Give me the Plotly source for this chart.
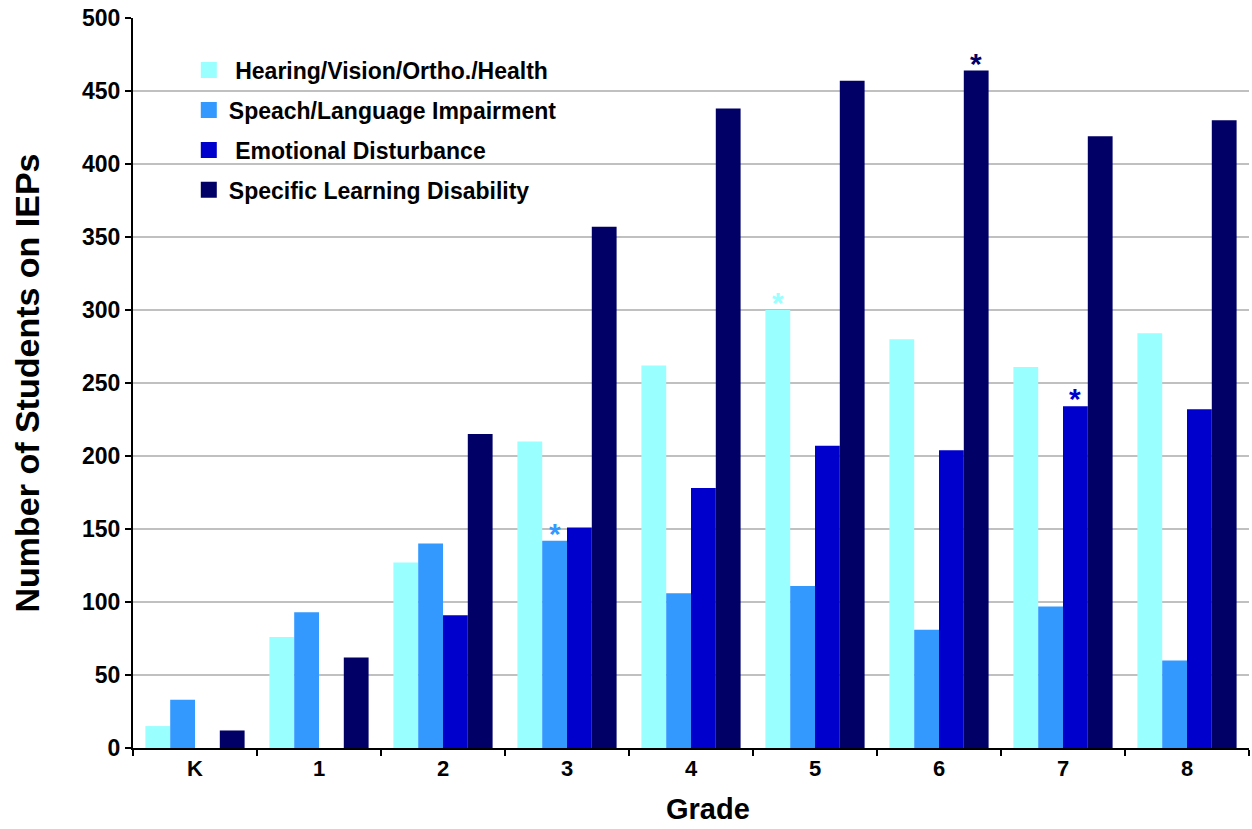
import plotly.graph_objects as go

grades = ["K", "1", "2", "3", "4", "5", "6", "7", "8"]
series_names = ["\u00a0Hearing/Vision/Ortho./Health", "Speach/Language Impairment",
                "\u00a0Emotional Disturbance", "Specific Learning Disability"]
hearing = [15, 76, 127, 210, 262, 300, 280, 261, 284]
speech = [33, 93, 140, 142, 106, 111, 81, 97, 60]
emotional = [0, 0, 91, 151, 178, 207, 204, 234, 232]
learning = [12, 62, 215, 357, 438, 457, 464, 419, 430]
colors = ["#99FFFF", "#3399FF", "#0000CC", "#000066"]
# asterisk markers: (series index, grade)
starred = [(1, "3"), (0, "5"), (3, "6"), (2, "7")]

series = [hearing, speech, emotional, learning]
FONT = "Liberation Sans, Arial, sans-serif"

fig = go.Figure()
for i, (name, vals, col) in enumerate(zip(series_names, series, colors)):
    fig.add_trace(go.Bar(x=grades, y=vals, name=name, marker=dict(color=col, line=dict(width=0)),
                         showlegend=False))
for i, (name, col) in enumerate(zip(series_names, colors)):
    fig.add_trace(go.Scatter(x=[None], y=[None], mode="markers", name=name,
                             marker=dict(symbol="square", size=20, color=col),
                             legendgroup=f"g{i}", showlegend=True))

bargap = 0.2
n = len(series)
cat_px = 1116 / len(grades)
bw = cat_px * (1 - bargap) / n
for si, g in starred:
    idx = grades.index(g)
    val = series[si][idx]
    xshift = (si - (n - 1) / 2) * bw
    fig.add_annotation(x=g, y=val, xref="x", yref="y", text="<b>*</b>", showarrow=False,
                       xshift=xshift, yanchor="bottom", yshift=-11,
                       font=dict(family=FONT, size=30, color=colors[si]))

fig.add_annotation(x=0.515, y=-81 / 730, xref="paper", yref="paper", text="<b>Grade</b>",
                   showarrow=False, yanchor="bottom", yshift=2,
                   font=dict(family=FONT, size=29, color="black"))

fig.update_layout(
    width=1252, height=829,
    margin=dict(l=133, r=3, t=18, b=81),
    barmode="group", bargap=bargap, bargroupgap=0,
    plot_bgcolor="white", paper_bgcolor="white",
    font=dict(family=FONT, color="black"),
    legend=dict(x=0.05, y=0.958, xanchor="left", yanchor="top",
                bgcolor="rgba(0,0,0,0)", tracegroupgap=7,
                font=dict(family=FONT, size=23, color="black", weight="bold")),
    xaxis=dict(showline=True, linecolor="black", linewidth=2, ticks="outside",
               tickson="boundaries", ticklen=6, tickwidth=2, tickcolor="black",
               tickfont=dict(family=FONT, size=22, weight="bold"), showgrid=False),
    yaxis=dict(range=[0, 500], dtick=50, showline=True, linecolor="black", linewidth=2,
               ticks="outside", ticklen=6, tickwidth=2, tickcolor="black",
               tickfont=dict(family=FONT, size=23, weight="bold"),
               showgrid=True, gridcolor="#C0C0C0", gridwidth=2,
               title=dict(text="<b>Number of Students on IEPs</b>", standoff=32,
                          font=dict(family=FONT, size=34)), zeroline=False),
)
fig.write_html("out.html", config={"displayModeBar": False},
               post_script="document.body.style.margin='0';document.body.style.overflow='hidden';")
